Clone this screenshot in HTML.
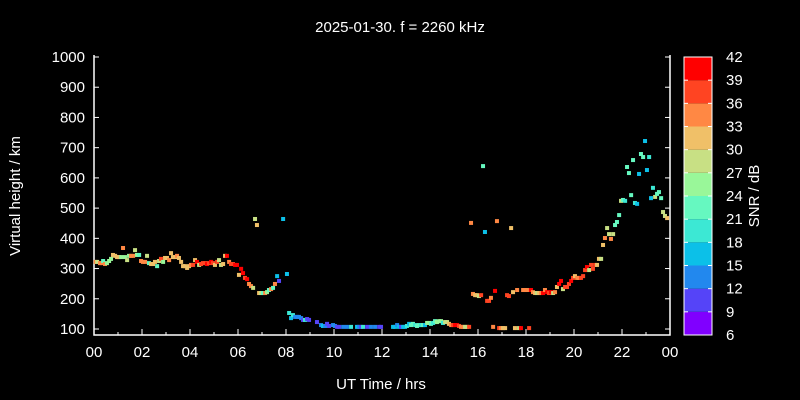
<!DOCTYPE html>
<html><head><meta charset="utf-8"><style>
html,body{margin:0;padding:0;background:#000;}
svg{display:block;font-family:"Liberation Sans",sans-serif;}
</style></head><body>
<svg id="chart" width="800" height="400" xmlns="http://www.w3.org/2000/svg">
<rect width="800" height="400" fill="#000"/>
<text x="400" y="32" fill="#fff" font-size="15" text-anchor="middle">2025-01-30. f = 2260 kHz</text>
<text x="381" y="389" fill="#fff" font-size="15" text-anchor="middle">UT Time / hrs</text>
<text transform="translate(20,196) rotate(-90)" fill="#fff" font-size="15" text-anchor="middle">Virtual height / km</text>
<text transform="translate(759,196) rotate(-90)" fill="#fff" font-size="15" text-anchor="middle">SNR / dB</text>
<g id="axes"></g><g id="points"></g><g id="cbar"></g>
</svg>
<script>
const times=[0.07,0.13,0.25,0.32,0.38,0.46,0.54,0.63,0.71,0.79,0.88,0.96,1.04,1.13,1.21,1.29,1.38,1.46,1.54,1.63,1.71,1.79,1.88,1.96,2.04,2.13,2.21,2.29,2.38,2.46,2.54,2.63,2.71,2.79,2.88,2.96,3.04,3.13,3.21,3.29,3.38,3.46,3.54,3.63,3.71,3.79,3.88,3.96,4.04,4.13,4.21,4.29,4.38,4.46,4.54,4.63,4.71,4.79,4.88,4.96,5.04,5.13,5.21,5.29,5.38,5.46,5.54,5.63,5.71,5.79,5.88,5.96,6.04,6.13,6.21,6.29,6.38,6.46,6.54,6.63,6.71,6.79,6.88,6.96,7.04,7.13,7.21,7.29,7.38,7.46,7.54,7.63,7.71,7.88,8.04,8.13,8.21,8.29,8.38,8.46,8.54,8.63,8.71,8.79,8.88,8.96,9.29,9.46,9.54,9.63,9.71,9.79,9.96,10.04,10.13,10.21,10.38,10.54,10.71,10.96,11.04,11.13,11.21,11.38,11.54,11.71,11.88,11.96,12.46,12.54,12.63,12.71,12.79,12.88,12.96,13.04,13.13,13.21,13.29,13.38,13.46,13.54,13.63,13.71,13.79,13.88,13.96,14.04,14.13,14.21,14.29,14.38,14.46,14.54,14.63,14.71,14.79,14.88,14.96,15.04,15.13,15.21,15.29,15.38,15.46,15.54,15.63,15.71,15.79,15.88,15.96,16.04,16.13,16.21,16.29,16.38,16.46,16.54,16.63,16.71,16.79,16.88,16.96,17.04,17.13,17.21,17.29,17.38,17.46,17.54,17.63,17.71,17.79,17.88,17.96,18.04,18.13,18.21,18.29,18.38,18.46,18.54,18.63,18.71,18.79,18.88,18.96,19.04,19.13,19.21,19.29,19.38,19.46,19.54,19.63,19.71,19.79,19.88,19.96,20.04,20.13,20.21,20.29,20.38,20.46,20.54,20.63,20.71,20.79,20.88,20.96,21.04,21.13,21.21,21.29,21.38,21.46,21.54,21.63,21.71,21.79,21.88,21.96,22.04,22.13,22.21,22.29,22.38,22.46,22.54,22.63,22.71,22.79,22.88,22.96,23.04,23.13,23.21,23.29,23.38,23.46,23.54,23.63,23.71,23.79,23.88];
const heights=[322,322,318,318,325,315,318,325,332,345,342,338,338,338,368,338,328,342,342,342,361,345,345,325,322,322,342,318,315,315,322,308,325,332,322,335,335,328,351,338,338,342,335,322,308,308,302,308,312,312,328,322,312,315,318,318,315,318,322,318,312,322,328,312,315,342,342,322,315,315,312,312,279,299,285,269,265,249,242,236,464,444,219,219,219,219,222,229,232,236,249,275,259,464,282,153,136,146,140,140,140,136,130,130,133,130,123,113,110,110,117,110,113,110,107,107,107,107,107,107,107,107,107,107,107,107,107,107,107,107,113,107,107,107,107,110,117,113,117,113,110,113,113,113,113,120,120,117,120,126,123,126,126,120,123,123,117,113,113,113,113,110,107,107,107,107,107,451,216,212,212,209,212,639,421,193,193,203,107,226,457,103,103,103,103,212,209,434,222,103,229,103,103,229,229,229,103,229,222,219,219,219,219,219,229,222,219,222,219,222,239,249,259,232,239,239,249,259,269,275,269,269,269,275,295,305,295,312,299,312,312,332,332,378,401,434,414,398,414,444,454,477,524,527,524,636,616,543,659,517,514,613,679,669,722,626,669,533,567,537,547,553,533,487,474,467];
const snrs=[34,28,34,34,22,34,25,25,25,31,31,31,31,25,34,25,28,25,34,34,28,25,22,34,34,34,28,22,31,31,31,22,28,37,25,31,31,34,31,31,31,34,31,31,31,31,31,31,34,37,31,40,28,37,37,37,40,37,40,37,31,37,28,28,31,31,40,34,37,37,40,40,31,40,40,37,40,34,34,28,28,31,31,28,22,34,25,22,34,22,34,16,10,16,16,19,16,19,13,13,13,13,10,19,10,10,10,13,16,13,10,10,13,13,10,10,13,13,19,16,13,10,19,10,13,13,10,10,16,16,13,16,10,16,16,19,16,22,22,19,22,22,19,22,16,25,25,22,19,22,25,25,25,19,28,28,31,34,37,40,40,37,34,34,28,28,37,34,34,31,31,28,37,22,16,37,37,34,34,40,34,37,34,31,31,37,37,31,31,31,34,28,40,34,34,34,37,40,34,31,28,31,34,40,34,40,37,40,28,34,31,40,40,28,37,37,37,40,37,31,34,34,37,37,37,40,28,37,37,37,31,31,28,31,34,28,28,34,28,22,22,22,28,22,19,22,22,22,22,19,16,16,22,22,16,16,19,16,19,28,22,22,22,28,28,31];
const yTicks=[100,200,300,400,500,600,700,800,900,1000];
const xTickLabels=["00","02","04","06","08","10","12","14","16","18","20","22","00"];
const cbTicks=[6,9,12,15,18,21,24,27,30,33,36,39,42];
const cbColors=["#8000ff","#5544f8","#2288ee","#0cc0e8","#3ce8d4","#66f8c0","#99f799","#c8e084","#f0c068","#ff8844","#ff4422","#ff0000"];

const X0=94,X1=670,Y0=329,Y1=57,AX=335;
const xs=t=>X0+(X1-X0)*t/24;
const ys=h=>Y0-(Y0-Y1)*(h-100)/900;
const CB0=335,CB1=57;
const cs=v=>CB0-(CB0-CB1)*(v-6)/36;
const NS="http://www.w3.org/2000/svg";
function mk(tag,attrs,parent,txt){const e=document.createElementNS(NS,tag);for(const k in attrs)e.setAttribute(k,attrs[k]);if(txt!==undefined)e.textContent=txt;parent.appendChild(e);return e;}
const axes=document.getElementById('axes');
let e=mk('path',{d:`M${X0},${Y1-2}V${AX}H${X1}V${Y1-2}`,stroke:'#fff','stroke-width':1.5,fill:'none'},axes);


yTicks.forEach(v=>{
  const y=ys(v);
  mk('line',{x1:X0,x2:X0+5,y1:y,y2:y,stroke:'#fff'},axes);
  mk('line',{x1:X1-5,x2:X1,y1:y,y2:y,stroke:'#fff'},axes);
  const t=mk('text',{x:X0-9,y:y+5,fill:'#fff','font-size':15,'text-anchor':'end'},axes,String(v));
  
  
});
for(let h=0;h<=24;h++){
  const x=xs(h);const len=h%2?3:6;
  mk('line',{x1:x,x2:x,y1:AX,y2:AX-len,stroke:'#fff'},axes);
}
xTickLabels.forEach((l,i)=>{
  const t=mk('text',{x:xs(i*2),y:AX+22,fill:'#fff','font-size':15,'text-anchor':'middle'},axes,l);
  
  
});
const pts=document.getElementById('points');
const colorOf=s=>cbColors[Math.max(0,Math.min(11,Math.floor((s-6)/3)))];
times.forEach((t,i)=>{
  const r=mk('rect',{x:xs(t)-2,y:ys(heights[i])-2,width:4,height:4,fill:colorOf(snrs[i])},pts);
  
  
});
const cb=document.getElementById('cbar');
cbColors.forEach((c,i)=>{
  const y0=cs(cbTicks[i+1]),y1=cs(cbTicks[i]);
  const r=mk('rect',{x:684,y:y0,width:28,height:y1-y0,fill:c},cb);
  
  
});
e=mk('rect',{x:684,y:CB1,width:28,height:CB0-CB1,fill:'none',stroke:'#fff','stroke-width':1},cb);


cbTicks.forEach(v=>{
  const y=cs(v);
  mk('line',{x1:684,x2:688,y1:y,y2:y,stroke:'#fff'},cb);
  mk('line',{x1:708,x2:712,y1:y,y2:y,stroke:'#fff'},cb);
  const t=mk('text',{x:726,y:y+5,fill:'#fff','font-size':15},cb,String(v));
  
  
});
</script>
</body></html>
